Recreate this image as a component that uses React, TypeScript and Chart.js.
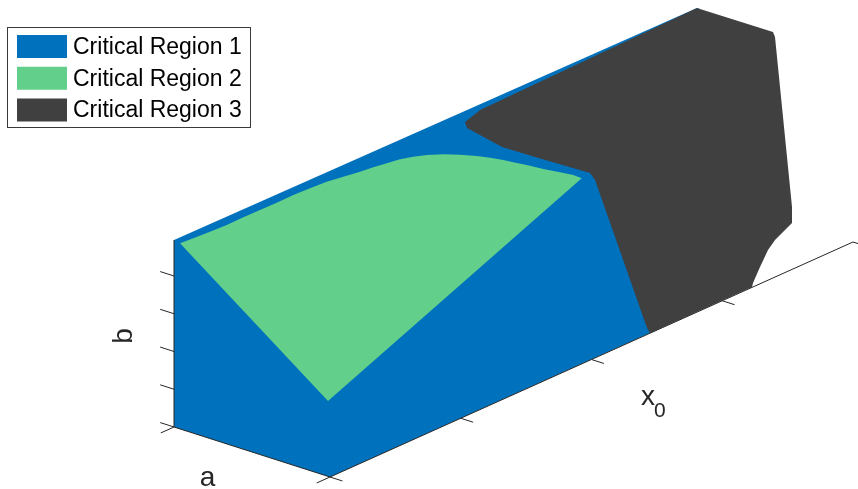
import React, { useEffect, useRef } from "react";
import { Chart, registerables } from "chart.js";

Chart.register(...registerables);

// View-plane coordinates of the projected critical regions (x to the right, y downward).
const regionLabels = ["Critical Region 1", "Critical Region 2", "Critical Region 3"];
const regionColors = ["#0072BD", "#62CF8A", "#404040"];

const region1X = [174, 697, 700, 650, 330, 174];
const region1Y = [240, 8, 9, 333, 477, 427];

const region2X = [
  180, 328, 581.7, 573.3, 560, 543.3, 526.7, 513.3, 503.3, 490, 476.7, 460, 443.3, 426.7,
  413.3, 400, 386.7, 373.3, 360, 343.3, 326.7, 310, 293.3, 276.7, 260, 243.3, 226.7, 210, 193.3,
];
const region2Y = [
  243.3, 401, 178.3, 175, 172.3, 169, 165, 162.3, 160, 157.7, 156, 154.7, 154.3, 155,
  156.7, 159.3, 163.3, 167.3, 171.7, 176.7, 181.7, 188.3, 195, 202.7, 210, 217.3, 225, 231.7, 238.3,
];

const region3X = [697, 700, 773, 775, 792, 792, 775, 768, 760, 753, 752, 650, 647, 595, 590, 535, 502, 467, 465, 480];
const region3Y = [8, 9, 32, 37, 207, 223, 240, 250, 267, 283, 287, 333, 328, 180, 173, 157, 147, 128, 122, 110];

// Box frame: corner of the axes and the far ends of the a, b and x0 edges.
const frameOrigin = [174, 427];
const aEnd = [330, 477];
const bEnd = [174, 240];
const x0End = [853, 242];
const bTickStep = 37.75;
const bTickCount = 5;
const x0TickCount = 5;

const VIEW_W = 858;
const VIEW_H = 489;

function polygon(xs: number[], ys: number[]) {
  const pts = xs.map((x, i) => ({ x, y: ys[i] }));
  pts.push({ ...pts[0] });
  return pts;
}

const FONT = "'Liberation Sans', Arial, Helvetica, sans-serif";
const AXIS_COLOR = "#262626";

const framePlugin = {
  id: "regionFrame",
  afterDatasetsDraw(chart: any) {
    const { ctx } = chart;
    const sx = chart.scales.x;
    const sy = chart.scales.y;
    const P = (p: number[]) => [sx.getPixelForValue(p[0]), sy.getPixelForValue(p[1])];
    const unit = (from: number[], to: number[]) => {
      const dx = to[0] - from[0];
      const dy = to[1] - from[1];
      const l = Math.hypot(dx, dy);
      return [dx / l, dy / l];
    };
    const seg = (p: number[], q: number[]) => {
      const a = P(p);
      const b = P(q);
      ctx.moveTo(a[0], a[1]);
      ctx.lineTo(b[0], b[1]);
    };

    ctx.save();
    ctx.strokeStyle = AXIS_COLOR;
    ctx.lineWidth = 1;
    ctx.beginPath();
    // axis edges
    seg(frameOrigin, bEnd);
    seg(frameOrigin, aEnd);
    seg(aEnd, x0End);

    const aDir = unit(frameOrigin, aEnd);
    const x0Dir = unit(aEnd, x0End);

    // b ticks point away from the a direction
    for (let k = 0; k < bTickCount; k++) {
      const p = [frameOrigin[0], frameOrigin[1] - k * bTickStep];
      seg(p, [p[0] - aDir[0] * 14.5, p[1] - aDir[1] * 14.5]);
    }
    // a ticks point away from the x0 direction
    for (const p of [frameOrigin, aEnd]) {
      seg(p, [p[0] - x0Dir[0] * 14.5, p[1] - x0Dir[1] * 14.5]);
    }
    // x0 ticks point along the a direction
    for (let k = 0; k < x0TickCount; k++) {
      const t = k / (x0TickCount - 1);
      const p = [aEnd[0] + (x0End[0] - aEnd[0]) * t, aEnd[1] + (x0End[1] - aEnd[1]) * t];
      seg(p, [p[0] + aDir[0] * 13, p[1] + aDir[1] * 13]);
    }
    ctx.stroke();

    // axis labels
    ctx.fillStyle = "#262626";
    ctx.textBaseline = "alphabetic";
    ctx.font = `28px ${FONT}`;
    ctx.textAlign = "center";
    const la = P([207.5, 486]);
    ctx.fillText("a", la[0], la[1]);

    const lb = P([132, 336]);
    ctx.save();
    ctx.translate(lb[0], lb[1]);
    ctx.rotate(-Math.PI / 2);
    ctx.fillText("b", 0, 0);
    ctx.restore();

    ctx.textAlign = "left";
    const lx = P([641, 405]);
    ctx.fillText("x", lx[0], lx[1]);
    ctx.font = `21px ${FONT}`;
    const lsub = P([654, 417]);
    ctx.fillText("0", lsub[0], lsub[1]);

    // legend
    const box = P([7.5, 27.5]);
    ctx.fillStyle = "#ffffff";
    ctx.fillRect(box[0], box[1], 243, 100);
    ctx.strokeStyle = "#3a3a3a";
    ctx.lineWidth = 1;
    ctx.strokeRect(box[0], box[1], 243, 100);
    ctx.font = `23px ${FONT}`;
    ctx.textBaseline = "middle";
    chart.data.datasets.forEach((ds: any, i: number) => {
      const cy = box[1] + 19 + i * 31.75;
      ctx.fillStyle = ds.backgroundColor;
      ctx.fillRect(box[0] + 9.5, cy - 11.5, 50, 23);
      ctx.fillStyle = "#000000";
      ctx.fillText(ds.label, box[0] + 65.5, cy + 1);
    });
    ctx.restore();
  },
};

export default function App() {
  const canvasRef = useRef<HTMLCanvasElement | null>(null);

  useEffect(() => {
    const canvas = canvasRef.current;
    if (!canvas) return;
    const shapes = [
      polygon(region1X, region1Y),
      polygon(region2X, region2Y),
      polygon(region3X, region3Y),
    ];
    // draw order: region 1 at the back, region 3 above it, region 2 on top
    const drawOrder = [3, 1, 2];
    const chart = new Chart(canvas, {
      type: "scatter",
      data: {
        datasets: shapes.map((data, i) => ({
          label: regionLabels[i],
          data,
          showLine: true,
          fill: "shape",
          backgroundColor: regionColors[i],
          borderColor: "transparent",
          borderWidth: 0,
          pointRadius: 0,
          tension: 0,
          order: drawOrder[i],
        })),
      },
      options: {
        responsive: false,
        animation: false,
        events: [],
        layout: { padding: 0 },
        plugins: {
          legend: { display: false },
          tooltip: { enabled: false },
        },
        scales: {
          x: { type: "linear", min: 0, max: VIEW_W, display: false },
          y: { type: "linear", min: 0, max: VIEW_H, reverse: true, display: false },
        },
      },
      plugins: [framePlugin],
    } as any);
    return () => chart.destroy();
  }, []);

  return (
    <div style={{ position: "fixed", left: 0, top: 0, width: VIEW_W, height: VIEW_H, background: "#ffffff" }}>
      <canvas ref={canvasRef} width={VIEW_W} height={VIEW_H} style={{ display: "block" }} />
    </div>
  );
}
